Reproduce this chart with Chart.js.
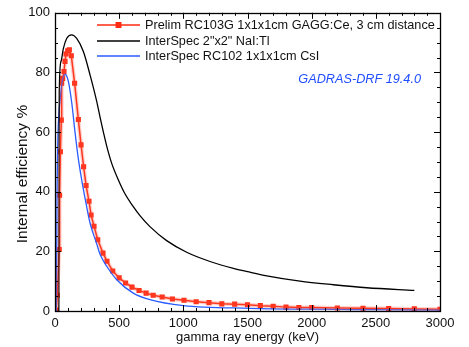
<!DOCTYPE html>
<html>
  <head>
    <meta charset="UTF-8" />
    <title>Internal efficiency</title>
    <script src="https://cdn.jsdelivr.net/npm/chart.js"></script>
    <style>
      body { margin: 0; padding: 0; background: #fff; }
      canvas { display: block; }
    </style>
  </head>
  <body>
    <canvas id="myChart" width="469" height="347"></canvas>
    <script>
      // Prelim RC103G GAGG (measured points)
      const gaggE = [10, 18, 33, 36, 42, 49, 52, 60, 70, 78, 86, 99, 112, 127, 153, 182, 203, 223, 242, 265,
                     281, 304, 333, 374, 405, 450, 500, 550, 600, 655, 710, 765, 835, 915, 1005, 1100, 1200,
                     1300, 1400, 1500, 1600, 1700, 1800, 1900, 2000, 2200, 2400, 2600, 2800, 3000];
      const gaggEff = [0.3, 5.3, 20.6, 38.8, 53.4, 64, 76.4, 78, 80.3, 83.7, 86.2, 87.3, 87.6, 85.6, 76.4, 64.2,
                       55.7, 48.4, 42.1, 36.8, 32.2, 28.4, 23.9, 19.4, 16.7, 13.4, 11.1, 9.4, 8.0, 6.9, 6.0, 5.3,
                       4.7, 4.0, 3.6, 3.1, 2.8, 2.4, 2.3, 2.1, 1.8, 1.6, 1.3, 1.2, 1.2, 1.0, 0.9, 0.8, 0.7, 0.6];

      // InterSpec 2"x2" NaI:Tl
      const naiE = [30, 33, 47, 65, 91, 130, 169, 221, 273, 325, 351, 377, 403, 442, 493, 545, 610, 662, 740,
                    870, 1026, 1208, 1390, 1519, 1650, 1909, 2169, 2429, 2800];
      const naiEff = [0, 73.5, 83.7, 88, 91.4, 92.6, 91.4, 87, 79.2, 70.3, 65, 60, 55.3, 49.5, 44, 39.3, 35,
                      32, 28.3, 23.6, 19.7, 16.6, 14.3, 13.0, 11.8, 10.0, 8.8, 7.8, 6.9];

      // InterSpec RC102 CsI
      const csiE = [10, 13, 16, 22, 30, 39, 52, 65, 80, 104, 130, 156, 182, 208, 240, 273, 325, 351, 403, 481,
                    610, 740, 1000, 1519, 2000, 2500, 3000];
      const csiEff = [0, 14, 38, 57, 66, 70.3, 75.9, 78.5, 79.4, 77, 70, 60, 51, 44, 36.5, 29.5, 22.5, 19, 15,
                      10.5, 6, 3.8, 1.8, 0.9, 0.6, 0.45, 0.3];

      const legendLabels = ['Prelim RC103G 1x1x1cm GAGG:Ce, 3 cm distance', 'InterSpec 2"x2" NaI:Tl',
                            'InterSpec RC102 1x1x1cm CsI'];
      const noteText = 'GADRAS-DRF 19.4.0';
      const yTitle = 'Internal efficiency %';

      const RED = '#ff2a12', BLUE = '#2a5cff', BLACK = '#000000';
      const FONT = '"Liberation Sans", Arial, sans-serif';
      const pts = (xs, ys) => xs.map((x, i) => ({ x: x, y: ys[i] }));

      // box frame + inward ticks on all four sides
      const frameTicks = {
        id: 'frameTicks',
        afterDraw(chart) {
          const { ctx, chartArea: a, scales: { x, y } } = chart;
          ctx.save();
          ctx.strokeStyle = '#000';
          ctx.lineWidth = 1;
          ctx.beginPath();
          for (let v = 0; v <= 3000; v += 100) {
            const px = Math.round(x.getPixelForValue(v)) + 0.5;
            const len = v % 500 === 0 ? 6 : 3;
            ctx.moveTo(px, a.bottom); ctx.lineTo(px, a.bottom - len);
            ctx.moveTo(px, a.top); ctx.lineTo(px, a.top + len);
          }
          for (let v = 0; v <= 100; v += 5) {
            const py = Math.round(y.getPixelForValue(v)) + 0.5;
            const len = v % 20 === 0 ? 6 : 3;
            ctx.moveTo(a.left, py); ctx.lineTo(a.left + len, py);
            ctx.moveTo(a.right, py); ctx.lineTo(a.right - len, py);
          }
          ctx.stroke();
          ctx.lineWidth = 1.3;
          ctx.strokeRect(Math.round(a.left) + 0.5, Math.round(a.top) + 0.5,
                         Math.round(a.right - a.left), Math.round(a.bottom - a.top));

          // y axis title (sits a bit below the plot's centre in the original)
          ctx.save();
          ctx.translate(23, 174);
          ctx.rotate(-Math.PI / 2);
          ctx.font = '15.5px ' + FONT;
          ctx.fillStyle = '#111';
          ctx.textAlign = 'center';
          ctx.textBaseline = 'middle';
          ctx.fillText(yTitle, 0, 0);
          ctx.restore();
          ctx.restore();
        }
      };

      // legend drawn inside the plot area, top right
      const insideLegend = {
        id: 'insideLegend',
        afterDraw(chart) {
          const ctx = chart.ctx;
          const colors = [RED, BLACK, BLUE];
          const rows = [25, 41, 56];
          ctx.save();
          ctx.font = '12.7px ' + FONT;
          ctx.textBaseline = 'middle';
          rows.forEach((ry, i) => {
            ctx.strokeStyle = colors[i];
            ctx.lineWidth = i === 0 ? 1.6 : 1.3;
            ctx.beginPath();
            ctx.moveTo(97, ry); ctx.lineTo(140, ry);
            ctx.stroke();
            if (i === 0) {
              ctx.fillStyle = RED;
              ctx.fillRect(115.5, ry - 3, 6, 6);
            }
            ctx.fillStyle = '#111';
            ctx.fillText(legendLabels[i], 145, ry + 0.5);
          });
          ctx.font = 'italic 12.7px ' + FONT;
          ctx.fillStyle = '#1f4dff';
          ctx.textAlign = 'right';
          ctx.fillText(noteText, 421, 79);
          ctx.restore();
        }
      };

      const ctx = document.getElementById('myChart').getContext('2d');
      new Chart(ctx, {
        type: 'line',
        data: {
          datasets: [
            {
              data: pts(gaggE, gaggEff),
              borderColor: 'rgba(255, 90, 70, 0.28)',
              borderWidth: 4,
              pointRadius: 0,
              tension: 0
            },
            {
              label: legendLabels[1],
              data: pts(naiE, naiEff),
              borderColor: BLACK,
              borderWidth: 1.3,
              pointRadius: 0,
              cubicInterpolationMode: 'monotone'
            },
            {
              label: legendLabels[2],
              data: pts(csiE, csiEff),
              borderColor: BLUE,
              borderWidth: 1.3,
              pointRadius: 0,
              cubicInterpolationMode: 'monotone'
            },
            {
              label: legendLabels[0],
              data: pts(gaggE, gaggEff),
              borderColor: RED,
              backgroundColor: RED,
              borderWidth: 1.5,
              pointStyle: 'rect',
              pointRadius: 3.6,
              pointBorderWidth: 0,
              tension: 0
            }
          ]
        },
        options: {
          responsive: false,
          animation: false,
          layout: { padding: { top: 11, right: 29, left: 0, bottom: 0 } },
          plugins: {
            legend: { display: false },
            tooltip: { enabled: false }
          },
          scales: {
            x: {
              type: 'linear',
              min: 0,
              max: 3000,
              grid: { display: false, drawTicks: false },
              border: { display: false },
              ticks: { stepSize: 500, padding: 5, color: '#111', font: { family: FONT, size: 13 },
                       callback: (v) => String(v) },
              title: { display: true, text: 'gamma ray energy (keV)', color: '#111',
                       font: { family: FONT, size: 13 }, padding: { top: 0, bottom: 2 } },
              afterFit(scale) { scale.height = 36; }
            },
            y: {
              min: 0,
              max: 100,
              grid: { display: false, drawTicks: false },
              border: { display: false },
              ticks: { stepSize: 20, padding: 5, color: '#111', font: { family: FONT, size: 13 },
                       callback: (v) => String(v) },
              afterFit(scale) { scale.width = 55; }
            }
          }
        },
        plugins: [frameTicks, insideLegend]
      });
    </script>
  </body>
</html>
